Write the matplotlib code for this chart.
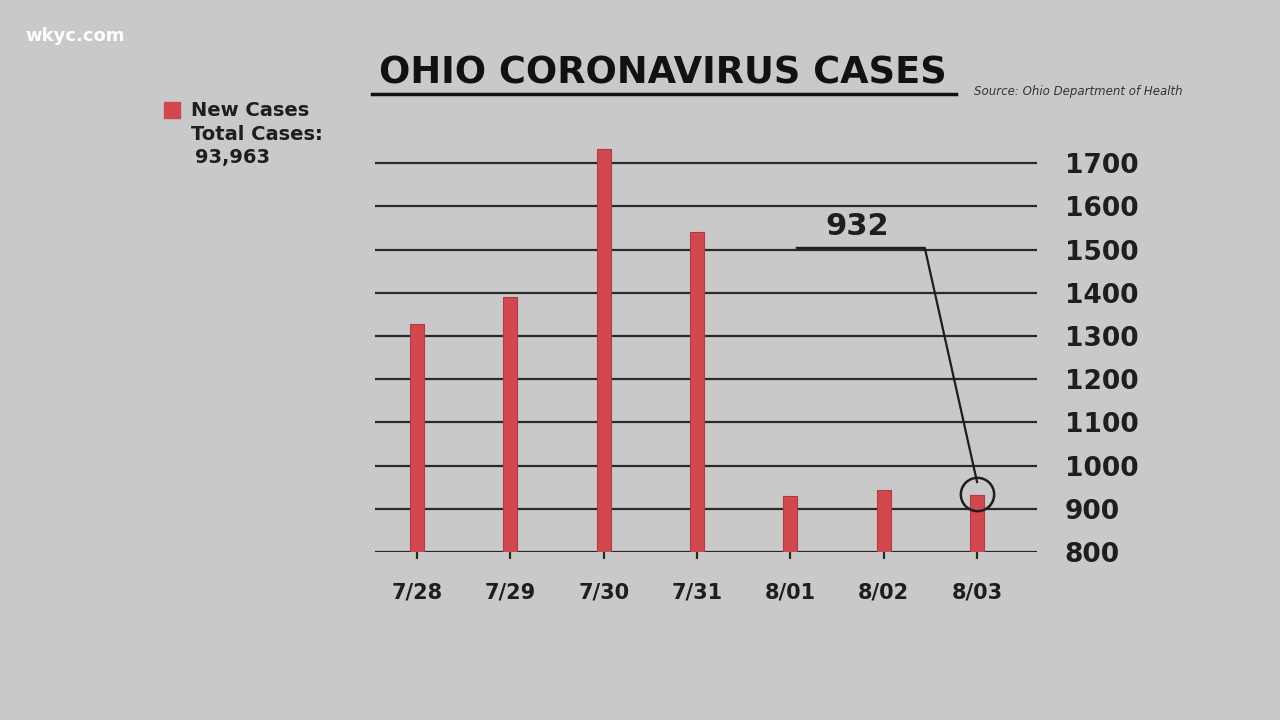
import matplotlib.pyplot as plt
from matplotlib.patches import Rectangle

dates = ["7/28", "7/29", "7/30", "7/31", "8/01", "8/02", "8/03"]
new_cases = [1328, 1390, 1733, 1541, 930, 943, 932]
yticks = [800, 900, 1000, 1100, 1200, 1300, 1400, 1500, 1600, 1700]

bg = "#c9c9c9"
red = "#d2484f"
fig = plt.figure(figsize=(12.8, 7.2), dpi=100, facecolor=bg)
ax = fig.add_axes([0.293, 0.2333, 0.517, 0.570])
ax.set_facecolor(bg)

x = list(range(len(dates)))
ax.set_xlim(-0.45, 6.64)
ax.set_ylim(800, 1750)
for y in yticks:
    ax.axhline(y, color="#2a2a2a", lw=1.6, zorder=1)
ax.bar(x, [v - 800 for v in new_cases], bottom=800, width=0.15, color=red,
       edgecolor="#b03a40", lw=0.8, zorder=2)
ax.vlines(x, 785, 800, color="#2a2a2a", lw=1.6, clip_on=False)

for s in ax.spines.values():
    s.set_visible(False)
ax.set_xticks(x)
ax.set_xticklabels(dates, fontsize=15, fontweight="bold", color="#1e1e1e")
ax.tick_params(axis="x", length=0, pad=22)
ax.yaxis.tick_right()
ax.set_yticks(yticks)
ax.set_yticklabels([str(v) for v in yticks], fontsize=19, fontweight="bold", color="#1e1e1e")
ax.tick_params(axis="y", length=0, pad=20)

# callout
ax.plot([4.07, 5.44, 6.0], [1504, 1504, 962], color="#1e1e1e", lw=1.6, zorder=3)
ax.plot([6], [934], marker="o", markersize=24, mfc="none", mec="#1e1e1e", mew=1.8, zorder=4)
ax.text(4.72, 1520, "932", fontsize=22, fontweight="bold", color="#1e1e1e", ha="center", va="bottom")

fig.text(663 / 1280, 1 - 73 / 720, "OHIO CORONAVIRUS CASES", fontsize=26.5, fontweight="bold",
         ha="center", va="center", color="#111111")
fig.add_artist(plt.Line2D([372 / 1280, 956 / 1280], [1 - 94 / 720] * 2, color="#111111", lw=2.5))
fig.text(1078 / 1280, 1 - 91 / 720, "Source: Ohio Department of Health", fontsize=8.5,
         style="italic", ha="center", va="center", color="#333333")
fig.text(25 / 1280, 1 - 36 / 720, "wkyc.com", fontsize=13, fontweight="bold", color="white", va="center")

fig.add_artist(Rectangle((164 / 1280, 1 - 118 / 720), 16 / 1280, 16 / 720, color=red))
fig.text(191 / 1280, 1 - 110 / 720, "New Cases", fontsize=14, fontweight="bold", va="center", color="#1e1e1e")
fig.text(191 / 1280, 1 - 134 / 720, "Total Cases:", fontsize=14, fontweight="bold", va="center", color="#1e1e1e")
fig.text(195 / 1280, 1 - 158 / 720, "93,963", fontsize=14, fontweight="bold", va="center", color="#1e1e1e")

fig.savefig("out.png", dpi=100, facecolor=bg)
